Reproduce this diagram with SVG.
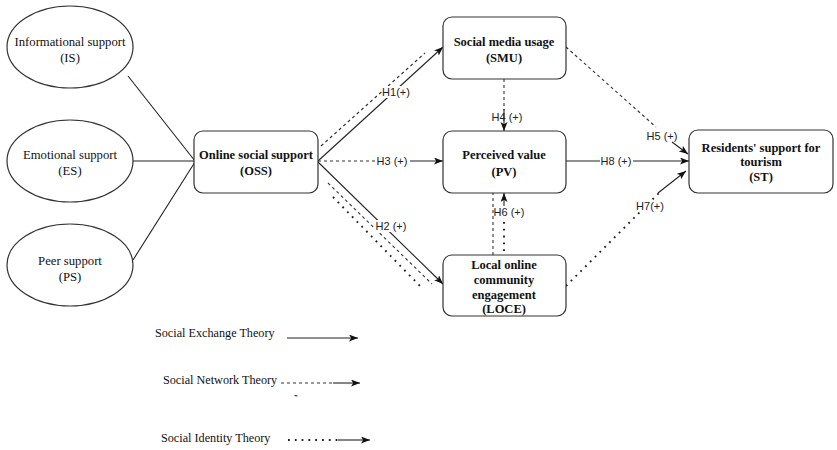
<svg xmlns="http://www.w3.org/2000/svg" width="837" height="450" viewBox="0 0 837 450">
<style>
.node{fill:#fff;stroke:#333;stroke-width:1.2}
.t{font-family:"Liberation Serif","Times New Roman",serif;font-size:12.7px;fill:#111;text-anchor:middle}
.b{font-family:"Liberation Serif","Times New Roman",serif;font-size:12.5px;font-weight:bold;fill:#111;text-anchor:middle}
.lg{font-family:"Liberation Serif","Times New Roman",serif;font-size:12.2px;fill:#111}
.lbl{font-family:"Liberation Sans",Arial,sans-serif;font-size:11px;fill:#222;text-anchor:middle}
.bg{fill:#fff}
.s{fill:none;stroke:#222;stroke-width:1.1}
.d{fill:none;stroke:#333;stroke-width:1.1;stroke-dasharray:3 3}
.o{fill:none;stroke:#222;stroke-width:1.9;stroke-dasharray:1.8 5}
.a{marker-end:url(#arr)}
</style>
<defs>
<marker id="arr" markerWidth="10" markerHeight="8" refX="9" refY="3.5" orient="auto" markerUnits="userSpaceOnUse">
<path d="M0,0 L9,3.5 L0,7 L2.2,3.5 z" fill="#111"/>
</marker>
</defs>
<rect width="837" height="450" fill="#fff"/>

<g id="connectors">
<path class="s" d="M128,76 L195,161"/>
<path class="s" d="M133,161 L195,161"/>
<path class="s" d="M133,260 L195,162"/>

<g id="h1">
<path class="s a" d="M318,161 L443,47"/>
<path class="d" d="M321,146 L425,53"/>
<rect class="bg" x="382" y="86" width="29" height="12"/>
<text class="lbl" x="396" y="96">H1(+)</text>
</g>
<g id="h3">
<path class="d" d="M318,161 L376,161"/>
<text class="lbl" x="392" y="165">H3 (+)</text>
<path class="s a" d="M410,161 L443,161"/>
</g>
<g id="h2">
<path class="s a" d="M318,162 L443,284"/>
<path class="d" d="M328,183 L432,284"/>
<path class="o" d="M333,197 L421,287"/>
<rect class="bg" x="375" y="220" width="33" height="12"/>
<text class="lbl" x="391" y="230">H2 (+)</text>
</g>
<g id="h4">
<path class="d" d="M504,79 L504,110"/>
<rect class="bg" x="491" y="111" width="33" height="12"/>
<text class="lbl" x="507" y="121">H4 (+)</text>
<path class="s a" d="M504,109 L504,131"/>
</g>
<g id="h6">
<path class="d" d="M493,255 L493,193"/>
<path class="o" d="M504,251 L504,218"/>
<rect class="bg" x="494" y="206" width="31" height="12"/>
<text class="lbl" x="509" y="216">H6 (+)</text>
<path class="s a" d="M504,206 L504,193"/>
</g>
<g id="h8">
<path class="s a" d="M566,161 L689,161"/>
<rect class="bg" x="600" y="155" width="33" height="12"/>
<text class="lbl" x="616" y="165">H8 (+)</text>
</g>
<g id="h5">
<path class="d" d="M566,47 L656,127"/>
<text class="lbl" x="662" y="140">H5 (+)</text>
<path class="s a" d="M672,142 L688,154"/>
</g>
<g id="h7">
<path class="o" d="M566,286 L660,192"/>
<rect class="bg" x="635" y="200" width="31" height="12"/>
<text class="lbl" x="650" y="210">H7(+)</text>
<path class="s a" d="M658,193 L686,171"/>
</g>
</g>

<g id="IS">
<ellipse class="node" cx="70" cy="47" rx="63" ry="41"/>
<text class="t" x="70" y="46">Informational support</text>
<text class="t" x="70" y="62">(IS)</text>
</g>
<g id="ES">
<ellipse class="node" cx="70" cy="161" rx="63" ry="41"/>
<text class="t" x="70" y="159">Emotional support</text>
<text class="t" x="70" y="175">(ES)</text>
</g>
<g id="PS">
<ellipse class="node" cx="70" cy="265" rx="63" ry="41"/>
<text class="t" x="70" y="265">Peer support</text>
<text class="t" x="70" y="281">(PS)</text>
</g>
<g id="OSS">
<rect class="node" x="194" y="131" width="124" height="62" rx="9"/>
<text class="b" x="256" y="159">Online social support</text>
<text class="b" x="256" y="175">(OSS)</text>
</g>
<g id="SMU">
<rect class="node" x="443" y="17" width="123" height="62" rx="9"/>
<text class="b" x="504" y="46">Social media usage</text>
<text class="b" x="504" y="62">(SMU)</text>
</g>
<g id="PV">
<rect class="node" x="443" y="131" width="123" height="62" rx="9"/>
<text class="b" x="504" y="159">Perceived value</text>
<text class="b" x="504" y="176">(PV)</text>
</g>
<g id="LOCE">
<rect class="node" x="443" y="255" width="123" height="61" rx="9"/>
<text class="b" x="504" y="269">Local online</text>
<text class="b" x="504" y="284">community</text>
<text class="b" x="504" y="299">engagement</text>
<text class="b" x="504" y="313">(LOCE)</text>
</g>
<g id="ST">
<rect class="node" x="689" y="130" width="144" height="63" rx="9"/>
<text class="b" x="761" y="152">Residents' support for</text>
<text class="b" x="761" y="166">tourism</text>
<text class="b" x="761" y="181">(ST)</text>
</g>

<g id="legend">
<text class="lg" x="155" y="337">Social Exchange Theory</text>
<path class="s a" d="M287,338 L358,338"/>
<text class="lg" x="163" y="384">Social Network Theory</text>
<path class="d" d="M281,383 L333,383"/>
<path class="s a" d="M333,383 L360,383"/>
<path class="s" d="M294.5,395.5 L297.5,396"/>
<text class="lg" x="161" y="442">Social Identity Theory</text>
<path class="o" d="M288,440 L340,440"/>
<path class="s a" d="M338,440 L370,440"/>
</g>
</svg>
